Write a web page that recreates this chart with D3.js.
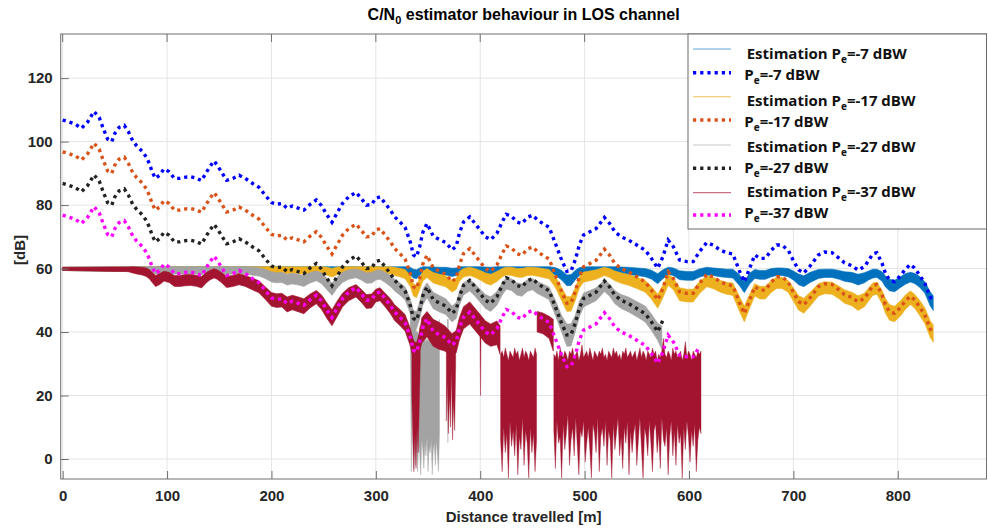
<!DOCTYPE html>
<html><head><meta charset="utf-8">
<script src="https://cdn.jsdelivr.net/npm/d3@7"></script>
<style>body{margin:0;background:#fff} svg{display:block}</style>
</head><body><svg id="c" width="988" height="529"></svg>
<script>
// ---------- DATA ----------
const xTicks = [0,100,200,300,400,500,600,700,800];
const yTicks = [0,20,40,60,80,100,120];

// distances [m] of the reference C/N0 samples (dotted curves)
const distance = [0,6,12,18,24,30,35,39,43,47,50,54,59,63,67,71,76,80,83,86,89,93,97,102,107,112,118,123,128,133,138,141,145,148,152,157,163,169,175,182,188,194,200,205,210,215,220,226,231,237,243,248,253,258,263,268,274,281,286,291,296,300,304,309,314,318,323,328,333,336,339,342,345,349,355,361,367,373,377,380,384,390,395,400,405,410,416,421,425,430,435,440,445,450,455,460,466,472,478,483,487,491,495,499,505,511,519,524,529,535,542,550,558,564,570,575,580,585,591,598,604,610,617,623,630,636,642,648,653,658,663,668,673,679,684,689,695,700,705,710,716,724,730,737,744,749,756,762,768,772,776,780,785,788,792,797,803,807,812,816,821,826,831,834];

const trueP7 = [106.8,106.2,105.5,104.2,106.2,109.5,107.6,104,100.8,100,102.6,104.5,105.1,103.1,100.3,98.6,97,95.2,93.1,90.2,88.4,89.5,91.4,90.5,88.4,88.4,88.8,88.9,88.5,87.7,90.5,92.1,93.9,92.6,90.5,87.8,88.4,89.4,88.4,86.8,85.6,83.1,80.8,80.3,80.5,79,79.7,79,78.4,80.2,81.6,79.8,77,74.6,77.6,80.5,82.6,84,82.1,80,80.2,82.2,82.6,80.5,78.4,76.3,74.7,73,68.4,64.3,63.7,66.9,71.4,74.2,70.2,69.1,68.2,65.9,67,71.1,74.7,76.3,74.2,72.1,70,69.1,71.1,74.7,77.1,76.5,74.7,74.2,76.1,76.8,75.3,74.2,73,67.9,62.7,59.1,59.2,62.7,67.5,70.6,71.6,72.6,76.1,74.2,71.6,70,69,67.4,65.8,63.2,60.1,63.7,69,66.9,62.7,62.2,62.2,65.3,68.2,67.4,65.8,65,64.6,59.5,55.8,60,64.3,63.2,63.2,65.8,67.4,67.4,65.8,62.5,59.6,58.6,60.8,64.3,65.2,65,63.2,61.8,60.9,59.5,60.6,62.5,64.6,65,61.6,58.7,56.4,55.9,57.9,59.7,61.3,60.2,57.9,55.3,51.1,49.5];

const trueP17 = [96.8,96.2,95.5,94.2,96.2,99.5,97.6,94,90.8,90,92.6,94.5,95.1,93.1,90.3,88.6,87,85.2,83.1,80.2,78.4,79.5,81.4,80.5,78.4,78.4,78.8,78.9,78.5,77.7,80.5,82.1,83.9,82.6,80.5,77.8,78.4,79.4,78.4,76.8,75.6,73.1,70.8,70.3,70.5,69,69.7,69,68.4,70.2,71.6,69.8,67,64.6,67.6,70.5,72.6,74,72.1,70,70.2,72.2,72.6,70.5,68.4,66.3,64.7,63,58.4,54.3,53.7,56.9,61.4,64.2,60.2,59.1,58.2,55.9,57,61.1,64.7,66.3,64.2,62.1,60,59.1,61.1,64.7,67.1,66.5,64.7,64.2,66.1,66.8,65.3,64.2,63,57.9,52.7,49.1,49.2,52.7,57.5,60.6,61.6,62.6,66.1,64.2,61.6,60,59,57.4,55.8,53.2,50.1,53.7,59,56.9,52.7,52.2,52.2,55.3,58.2,57.4,55.8,55,54.6,49.5,45.8,50,54.3,53.2,53.2,55.8,57.4,57.4,55.8,52.5,49.6,48.6,50.8,54.3,55.2,55,53.2,51.8,50.9,49.5,50.6,52.5,54.6,55,51.6,48.7,46.4,45.9,47.9,49.7,51.3,50.2,47.9,45.3,41.1,39.5];

const trueP27 = [86.8,86.2,85.5,84.2,86.2,89.5,87.6,84,80.8,80,82.6,84.5,85.1,83.1,80.3,78.6,77,75.2,73.1,70.2,68.4,69.5,71.4,70.5,68.4,68.4,68.8,68.9,68.5,67.7,70.5,72.1,73.9,72.6,70.5,67.8,68.4,69.4,68.4,66.8,65.6,63.1,60.8,60.3,60.5,59,59.7,59,58.4,60.2,61.6,59.8,57,54.6,57.6,60.5,62.6,64,62.1,60,60.2,62.2,62.6,60.5,58.4,56.3,54.7,53,48.4,44.3,43.7,46.9,51.4,54.2,50.2,49.1,48.2,45.9,47,51.1,54.7,56.3,54.2,52.1,50,49.1,51.1,54.7,57.1,56.5,54.7,54.2,56.1,56.8,55.3,54.2,53,47.9,42.7,39.1,39.2,42.7,47.5,50.6,51.6,52.6,56.1,54.2,51.6,50,49,47.4,45.8,43.2,40.1,43.7];

const trueP37 = [76.8,76.2,75.5,74.2,76.2,79.5,77.6,74,70.8,70,72.6,74.5,75.1,73.1,70.3,68.6,67,65.2,63.1,60.2,58.4,59.5,61.4,60.5,58.4,58.4,58.8,58.9,58.5,57.7,60.5,62.1,63.9,62.6,60.5,57.8,58.4,59.4,58.4,56.8,55.6,53.1,50.8,50.3,50.5,49,49.7,49,48.4,50.2,51.6,49.8,47,44.6,47.6,50.5,52.6,54,52.1,50,50.2,52.2,52.6,50.5,48.4,46.3,44.7,43,38.4,34.3,33.7,36.9,41.4,44.2,40.2,39.1,38.2,35.9,37,41.1,44.7,46.3,44.2,42.1,40,39.1,41.1,44.7,47.1,46.5,44.7,44.2,46.1,46.8,45.3,44.2,43,37.9,32.7,29.1,29.2,32.7,37.5,40.6,41.6,42.6,46.1,44.2,41.6,40,39,37.4,35.8,33.2,30.1,33.7,39,36.9,32.7,32.2,32.2,35.3];

// Estimated C/N0 : noise envelope (low / high) of each estimate
const estDist7 = [0,80,200,328,333,336,339,342,345,355,361,367,373,377,380,400,405,410,416,466,472,478,483,487,491,495,499,505,529,535,542,550,558,564,570,575,580,585,591,598,604,610,617,623,630,636,642,648,653,658,663,668,673,679,684,689,695,700,705,710,716,724,730,737,744,749,756,762,768,772,776,780,785,788,792,797,803,807,812,816,821,826,831,834];
const estLow7 = [59.4,59.0,58.8,58.6,58.0,57.0,56.8,57.8,58.6,58.3,58.2,58.0,57.5,57.8,58.5,58.6,58.4,58.2,58.5,58.7,57.9,56.4,54.6,54.7,56.4,57.8,58.4,58.5,58.5,58.3,58.1,57.8,57.4,56.7,55.2,56.8,58.1,57.8,56.5,56.3,56.3,57.3,58.0,57.8,57.4,57.2,57.0,54.8,52.4,55.1,56.9,56.6,56.6,57.4,57.8,57.8,57.4,56.4,54.9,54.3,55.6,56.9,57.2,57.2,56.6,56.0,55.6,54.8,55.5,56.4,57.0,57.2,56.0,54.3,53.0,52.7,54.1,55.0,55.8,55.3,54.1,52.2,48.3,46.8];
const estHigh7 = [60.4,60.6,60.6,60.6,60.4,59.8,59.6,60.2,60.6,60.5,60.4,60.4,60.1,60.2,60.6,60.6,60.5,60.4,60.6,60.6,60.3,59.4,58.0,58.1,59.4,60.3,60.5,60.6,60.6,60.5,60.4,60.2,60.0,59.5,58.4,59.6,60.4,60.2,59.3,59.1,59.1,59.9,60.4,60.2,60.0,59.8,59.8,58.2,56.0,58.5,59.7,59.4,59.4,60.0,60.2,60.2,60.0,59.2,58.3,57.7,58.8,59.7,59.8,59.8,59.4,59.0,58.8,58.2,58.7,59.2,59.8,59.8,59.0,57.7,56.6,56.3,57.5,58.4,58.8,58.5,57.5,55.8,52.7,51.4];

const estDist17 = [0,80,182,194,200,205,210,215,220,226,231,237,243,248,253,258,263,268,274,281,286,291,296,300,309,314,318,323,328,333,336,339,342,345,349,355,361,367,373,377,380,384,390,395,400,405,410,416,421,425,430,435,440,445,450,455,460,466,472,478,483,487,491,495,499,505,511,519,524,529,535,542,550,558,564,570,575,580,585,591,598,604,610,617,623,630,636,642,648,653,658,663,668,673,679,684,689,695,700,705,710,716,724,730,737,744,749,756,762,768,772,776,780,785,788,792,797,803,807,812,816,821,826,831,834];
const estLow17 = [59.4,59.0,58.8,58.8,58.6,58.5,58.5,58.4,58.5,58.4,58.25,58.5,58.6,58.5,57.95,57.35,58.05,58.5,58.7,58.8,58.7,58.5,58.5,58.7,58.5,58.25,57.8,57.4,56.8,54.35,51.35,50.85,53.35,56.05,57.2,55.45,54.8,54.25,52.65,53.4,55.9,57.35,57.8,57.2,56.4,55.35,54.8,55.9,57.35,57.95,57.85,57.35,57.2,57.8,57.9,57.55,57.2,56.8,54.05,49.85,46.5,46.6,49.85,53.85,55.7,56.15,56.6,57.8,57.2,56.15,55.35,54.75,53.7,52.55,50.4,47.5,50.8,54.75,53.35,49.85,49.5,49.5,52.1,54.25,53.7,52.55,51.9,51.55,46.8,43.2,47.4,51.35,50.4,50.4,52.55,53.7,53.7,52.55,49.75,46.9,45.95,48.1,51.35,52.05,51.9,50.4,49.1,48.25,46.8,47.95,49.75,51.55,51.9,48.9,46.05,43.75,43.25,45.2,47.0,48.65,47.6,45.2,42.6,38.35,36.8];
const estHigh17 = [60.4,60.6,60.6,60.6,60.7,60.6,60.6,60.6,60.6,60.6,60.55,60.6,60.7,60.6,60.45,60.05,60.5,60.6,60.6,60.6,60.6,60.6,60.6,60.6,60.6,60.55,60.4,60.1,59.7,57.85,55.25,54.75,57.05,59.15,60.0,58.75,58.2,57.75,56.35,57.0,59.1,60.05,60.4,60.0,59.4,58.65,58.2,59.1,60.05,60.45,60.4,60.05,60.0,60.4,60.45,60.25,60.0,59.7,57.55,53.95,51.1,51.2,53.95,57.35,58.9,59.25,59.6,60.4,60.0,59.25,58.65,58.15,57.3,56.25,54.4,51.9,54.8,58.15,57.05,53.95,53.5,53.5,55.9,57.75,57.3,56.25,55.7,55.45,51.4,48.2,51.8,55.25,54.4,54.4,56.25,57.3,57.3,56.25,53.85,51.5,50.65,52.5,55.25,55.85,55.7,54.4,53.3,52.55,51.4,52.25,53.85,55.45,55.7,53.1,50.75,48.65,48.15,50.0,51.6,52.95,52.0,50.0,47.6,43.65,42.2];

const estDist27 = [0,80,83,86,89,93,97,102,107,112,118,123,128,133,138,141,145,148,152,157,163,169,175,182,188,194,200,205,210,215,220,226,231,237,243,248,253,258,263,268,274,281,286,291,296,300,304,309,314,318,323,328,333,336,339,342,345,349,355,361,367,373,377,380,384,390,395,400,405,410,416,421,425,430,435,440,445,450,455,460,466,472,478,483,487,491,495,499,505,511,519,524,529,535,542,550,558,564,570,574];
const estLow27 = [59.4,59.0,58.9,58.5,58.25,58.4,58.6,58.5,58.25,58.25,58.3,58.3,58.25,58.1,58.5,58.7,58.8,58.7,58.5,58.1,58.25,58.4,58.25,57.9,57.65,56.85,55.8,55.5,55.6,54.8,55.15,54.8,54.35,55.45,56.15,55.25,53.4,51.55,53.85,55.6,56.6,57.1,56.4,55.35,55.45,56.4,56.6,55.6,54.35,52.95,51.65,50.2,45.75,41.65,41.0,44.2,48.5,50.8,47.3,46.3,45.5,43.2,44.3,48.45,51.65,52.95,51.25,49.4,47.4,46.5,48.45,51.65,53.5,53.05,51.65,51.25,52.75,53.3,52.1,51.25,50.2,45.2,40.0,35.5,35.6,40.0,44.8,47.9,48.9,49.85,52.75,51.25,48.9,47.4,46.35,44.8,43.2,40.5,37.4,34.5];
const estHigh27 = [60.4,60.6,60.6,60.6,60.55,60.6,60.6,60.6,60.55,60.55,60.6,60.6,60.55,60.5,60.6,60.6,60.6,60.6,60.6,60.5,60.55,60.6,60.55,60.45,60.25,59.75,59.0,58.7,58.8,58.2,58.55,58.2,57.85,58.75,59.25,58.65,57.0,55.45,57.35,58.8,59.6,59.9,59.4,58.65,58.75,59.4,59.6,58.8,57.85,56.65,55.55,54.2,50.45,46.75,46.5,49.4,53.5,55.5,52.5,51.5,50.5,48.2,49.3,52.75,55.55,56.65,55.15,53.5,51.8,51.1,52.75,55.55,57.1,56.75,55.55,55.15,56.45,56.9,55.9,55.15,54.2,50.0,45.2,42.5,42.6,45.2,49.7,52.3,53.1,53.95,56.45,55.15,53.1,51.8,51.05,49.6,48.2,45.7,42.8,42.0];
// loss-of-lock dropouts of the P=-27 dBW estimate
const dropDist27 = [333,334,335,336,337,338,339,340,341,342,343,344,345,346,347,348,349,350,351,352,353,354,355,356,357,358,359,360,361,368.5,369,369.5];
const dropLow27 = [40,-4,30,-3,12,-2,6,-4,5,2,-5,6,3,-3,5,1,7,-4,4,2,6,-5,3,5,-2,6,1,-4,8,42,5,42];
const dropHigh27 = [46,46,45,44,44,42,40,40,39,38,38,38,38,37,38,37,38,37,38,37,38,37,38,37,38,37,38,40,44,44,44,44];

const estDist37 = [0,50,59,63,67,71,76,80,83,86,89,93,97,102,107,112,118,123,128,133,138,141,145,148,152,157,163,169,175,182,188,194,200,205,210,215,220,226,231,237,243,248,253,258,263,268,274,281,286,291,296,300,304,309,314,318,323,328,333,336,339,342,344,349,355,361,366,373,377,380,384,390,395,400,405,410,416,419,419.4,454.5,460,466,470];
const estLow37 = [59.4,59.1,59.1,59.0,58.6,58.3,58.0,57.5,56.8,55.5,54.35,54.95,56.05,55.6,54.35,54.35,54.6,54.65,54.4,53.9,55.6,56.4,57.05,56.6,55.6,54.0,54.35,54.9,54.35,53.25,52.35,50.3,48.15,47.75,47.9,46.35,47.0,46.35,45.75,47.6,48.9,47.1,44.35,41.95,44.9,47.9,49.85,51.05,49.4,47.4,47.6,49.5,49.85,47.9,45.75,43.6,42.05,40.3,35.6,31.4,30.8,34.0,36.5,38.5,35.5,34.5,34.0,32.5,33.5,37.5,41.0,42.5,40.5,38.5,36.5,35.5,36.0,33.0,null,40.0,39.5,38.0,34.0];
const estHigh37 = [60.4,60.5,60.5,60.5,60.6,60.5,60.4,60.2,59.7,58.7,57.85,58.45,59.15,58.8,57.85,57.85,58.1,58.15,57.9,57.5,58.8,59.4,59.95,59.6,58.8,57.6,57.85,58.4,57.85,56.95,56.15,54.3,52.45,52.05,52.2,51.05,51.6,51.05,50.45,52.0,53.1,51.7,49.25,47.05,49.8,52.2,53.95,54.95,53.5,51.8,52.0,53.5,53.95,52.2,50.45,48.6,47.15,45.5,41.2,37.2,36.6,39.8,44.5,46.5,44.0,43.0,42.0,39.5,40.5,44.5,48.0,49.5,47.5,45.5,43.5,42.5,43.5,42.0,null,46.5,46.0,45.0,44.0];
// loss-of-lock dropouts of the P=-37 dBW estimate
const dropDist37 = [334.5,335.5,336.5,337.5,338.5,339.5,340.5,341.5,342.5,367.5,368.5,369.5,370.5,371.5,372.5,373.5,374.5,375.5,376.5,399.8,400.3,400.8,
 419.5,421,422.5,424,425.5,427,428.5,430,431.5,433,434.5,436,437.5,439,440.5,442,443.5,445,446.5,448,449.5,451,452.5,454,
 470.5,472,473.5,475,476.5,478,479.5,481,482.5,484,485.5,487,488.5,490,491.5,493,494.5,496,497.5,499,500.5,502,503.5,505,506.5,508,509.5,511,512.5,514,515.5,517,518.5,520,521.5,523,524.5,526,527.5,529,530.5,532,533.5,535,536.5,538,539.5,541,542.5,544,545.5,547,548.5,550,551.5,553,554.5,556,557.5,559,560.5,562,563.5,565,566.5,568,569.5,571,572.5,574,575.5,577,578.5,580,581.5,583,584.5,586,587.5,589,590.5,592,593.5,595,596.5,598,599.5,601,602.5,604,605.5,607,608.5,610,611.5];
const dropLow37 = [20,5,-4,8,-3,10,2,15,30,12,25,8,20,10,28,6,18,9,30,39,20,39,
 6,-4,10,2,8,-6,12,4,9,1,11,-5,7,3,13,-2,9,5,-6,10,2,8,-4,6,
 9,-3,12,5,7,-6,11,3,8,14,-2,6,10,1,13,4,-5,9,7,12,-1,5,10,3,-6,11,8,2,13,-4,7,10,4,12,-2,9,6,-6,11,3,8,13,1,7,-3,10,5,12,-5,9,2,8,11,-2,6,13,3,-6,10,7,1,12,5,-4,9,11,2,8,-3,13,6,4,10,-5,7,12,1,9,-2,11,5,8,-6,10,3,12,7,-1,9,4,11,-4,6,10,8];
const dropHigh37 = [39,38,37,36,36,37,38,40,42,40,40,39,39,38,38,37,37,37,38,44,44,44,
 33,34,32,35,33,31,34,33,32,35,33,34,31,33,35,32,34,33,31,34,33,32,35,33,
 33,32,34,31,35,33,32,34,33,31,34,33,35,32,33,34,31,33,36,32,33,34,32,35,33,31,34,33,32,34,33,35,32,33,31,34,33,32,35,33,34,32,33,31,34,33,35,32,33,34,32,33,34,31,33,35,32,34,33,31,34,33,32,35,33,34,31,33,32,34,38,33,32,34,33,31,35,33,34,32,33,34,31,33,37,32,34,33,31,34,33,32,34,33,34];

const legendNames = ['Estimation P','P','Estimation P','P','Estimation P','P','Estimation P','P'];
const legendPower = ['=-7 dBW','=-7 dBW','=-17 dBW','=-17 dBW','=-27 dBW','=-27 dBW','=-37 dBW','=-37 dBW'];

// ---------- CHART ----------
const C = {est7:'#0072BD', est17:'#EDB120', est27:'#A3A3A3', est37:'#A2142F',
           p7:'#0000FF', p17:'#D95319', p27:'#222222', p37:'#FF00FF'};
const svg = d3.select('#c');
const L = 60.7, R = 986.5, T = 34, B = 479;
const x = d3.scaleLinear().domain([-1.9, 885]).range([L, R]);
const y = d3.scaleLinear().domain([-6.3, 133.9]).range([B, T]);

svg.append('defs').append('clipPath').attr('id','clip')
  .append('rect').attr('x',L).attr('y',T).attr('width',R-L).attr('height',B-T);

// grid
const grid = svg.append('g').attr('stroke','#e4e4e4').attr('stroke-width',1);
grid.selectAll('.gx').data(xTicks).join('line')
  .attr('x1',d=>x(d)).attr('x2',d=>x(d)).attr('y1',T).attr('y2',B);
grid.selectAll('.gy').data(yTicks).join('line')
  .attr('x1',L).attr('x2',R).attr('y1',d=>y(d)).attr('y2',d=>y(d));

const plot = svg.append('g').attr('clip-path','url(#clip)');

function band(dist, lo, hi, color){
  const idx = d3.range(dist.length);
  const ar = d3.area().defined(i => lo[i] !== null)
    .x(i => x(dist[i])).y0(i => y(lo[i])).y1(i => y(hi[i]));
  plot.append('path').datum(idx).attr('d', ar).attr('fill', color)
    .attr('stroke', color).attr('stroke-width', 0.6);
}
function drops(dist, lo, hi, color){
  // split the samples into contiguous bursts
  const segs = []; let cur = [];
  dist.forEach((d, i) => {
    if (cur.length && d - dist[cur[cur.length - 1]] > 2.5) { segs.push(cur); cur = []; }
    cur.push(i);
  });
  segs.push(cur);
  const ar = d3.area().x(i => x(dist[i])).y0(i => y(lo[i])).y1(i => y(hi[i]));
  plot.append('g').selectAll('path').data(segs).join('path')
    .attr('d', ar).attr('fill', color).attr('stroke', color).attr('stroke-width', 0.4);
}
function dotted(vals, color){
  const ln = d3.line().x((v,i) => x(distance[i])).y(v => y(v));
  plot.append('path').datum(vals).attr('d', ln).attr('fill','none')
    .attr('stroke', color).attr('stroke-width', 3.4)
    .attr('stroke-dasharray','3.2 3.9');
}

band(estDist7, estLow7, estHigh7, C.est7);
dotted(trueP7, C.p7);
band(estDist17, estLow17, estHigh17, C.est17);
dotted(trueP17, C.p17);
band(estDist27, estLow27, estHigh27, C.est27);
drops(dropDist27, dropLow27, dropHigh27, C.est27);
dotted(trueP27, C.p27);
band(estDist37, estLow37, estHigh37, C.est37);
drops(dropDist37, dropLow37, dropHigh37, C.est37);
dotted(trueP37, C.p37);

// axes box
const axCol = '#707070';
svg.append('rect').attr('x',L).attr('y',T).attr('width',R-L).attr('height',B-T)
  .attr('fill','none').attr('stroke',axCol).attr('stroke-width',1);

const fontAx = '"Liberation Sans", Arial, sans-serif';
const xa = svg.append('g').attr('transform',`translate(0,${B})`)
  .call(d3.axisBottom(x).tickValues(xTicks).tickSizeInner(-8).tickSizeOuter(0).tickPadding(11));
const ya = svg.append('g').attr('transform',`translate(${L},0)`)
  .call(d3.axisLeft(y).tickValues(yTicks).tickSizeInner(-8).tickSizeOuter(0).tickPadding(8));
[xa, ya].forEach(a => {
  a.select('.domain').remove();
  a.selectAll('line').attr('stroke', axCol);
  a.selectAll('text').attr('fill','#262626').attr('font-family',fontAx)
    .attr('font-size',15).attr('font-weight','bold');
});
// top ticks
svg.append('g').selectAll('line').data(xTicks).join('line')
  .attr('x1',d=>x(d)).attr('x2',d=>x(d)).attr('y1',T).attr('y2',T+8).attr('stroke',axCol);

// axis titles
svg.append('text').attr('x',(L+R)/2).attr('y',522).attr('text-anchor','middle')
  .attr('font-family',fontAx).attr('font-size',15).attr('font-weight','bold').attr('fill','#262626')
  .text('Distance travelled [m]');
svg.append('text').attr('transform','translate(25,250) rotate(-90)').attr('text-anchor','middle')
  .attr('font-family',fontAx).attr('font-size',15).attr('font-weight','bold').attr('fill','#262626')
  .text('[dB]');

// title
const tt = svg.append('text').attr('x',(L+R)/2).attr('y',20).attr('text-anchor','middle')
  .attr('font-family',fontAx).attr('font-size',16).attr('font-weight','bold').attr('fill','#000');
tt.append('tspan').text('C/N');
tt.append('tspan').attr('font-size',11).attr('dy',4).text('0');
tt.append('tspan').attr('dy',-4).text(' estimator behaviour in LOS channel');

// legend
const lg = svg.append('g');
lg.append('rect').attr('x',688).attr('y',T).attr('width',R-688).attr('height',229-T)
  .attr('fill','#fff').attr('stroke','#6a6a6a').attr('stroke-width',1);
const sampleY = [49,72.7,96.7,120,145,168.3,192.7,215];
const textY = [59.3,80,105.5,126.7,151.7,172.7,196.7,218.3];
const textX = [746.7,744.3,746.7,744.3,746.7,744.3,746.7,744.3];
const sampleCol = [C.est7,C.p7,C.est17,C.p17,C.est27,C.p27,C.est37,C.p37];
sampleY.forEach((sy,i) => {
  const solid = i % 2 === 0;
  lg.append('line').attr('x1',693).attr('x2',731).attr('y1',sy).attr('y2',sy)
    .attr('stroke',sampleCol[i])
    .attr('stroke-width', solid ? 1.2 : 3.4)
    .attr('stroke-opacity', solid ? 0.6 : 1)
    .attr('stroke-dasharray', solid ? null : '3.2 4');
  const t = lg.append('text').attr('x',textX[i]).attr('y',textY[i])
    .attr('font-family','"Open Sans", Lato, sans-serif').attr('font-weight',700)
    .attr('font-size',15).attr('letter-spacing',0).attr('fill','#111');
  t.append('tspan').text(legendNames[i]);
  t.append('tspan').attr('font-size',10).attr('dy',4).text('e');
  t.append('tspan').attr('dy',-4).text(legendPower[i]);
});
</script>
</body></html>
